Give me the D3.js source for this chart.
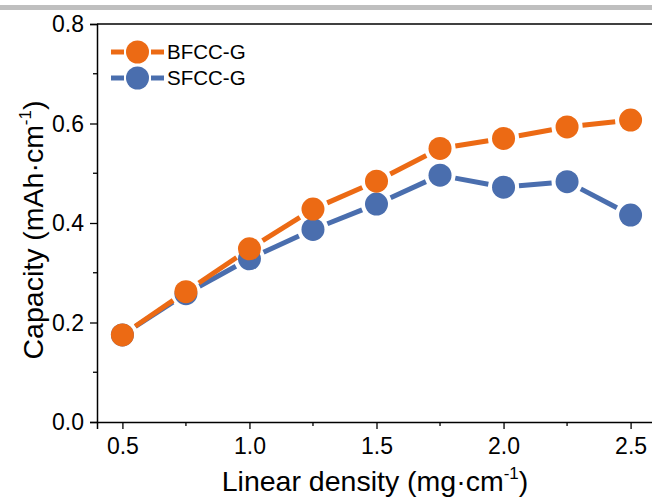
<!DOCTYPE html>
<html>
<head>
<meta charset="utf-8">
<script src="https://cdn.jsdelivr.net/npm/d3@7"></script>
<style>
  body { margin: 0; background: #fff; }
  svg { display: block; font-family: "Liberation Sans", Arial, sans-serif; }
</style>
</head>
<body>
<svg width="652" height="497"></svg>
<script>
const density = [0.5, 0.75, 1.0, 1.25, 1.5, 1.75, 2.0, 2.25, 2.5];
const bfcc = [0.175, 0.262, 0.348, 0.428, 0.484, 0.550, 0.570, 0.593, 0.607];
const sfcc = [0.175, 0.258, 0.328, 0.387, 0.438, 0.496, 0.472, 0.483, 0.416];
const seriesNames = ["BFCC-G", "SFCC-G"];
const seriesColors = ["#EC6A14", "#4A6EAE"];
const xTicks = [0.5, 1.0, 1.5, 2.0, 2.5];
const yTicks = [0.0, 0.2, 0.4, 0.6, 0.8];

const svg = d3.select("svg");

// grey strip along the top edge
svg.append("rect").attr("x", 0).attr("y", 5).attr("width", 652).attr("height", 5).attr("fill", "#bfbfbf");

const x = d3.scaleLinear().domain([0.4, 2.6]).range([97, 656]);
const y = d3.scaleLinear().domain([0, 0.8]).range([422, 24]);

// frame (right side falls off the picture)
svg.append("line").attr("x1", 97).attr("x2", 656).attr("y1", 24).attr("y2", 24)
    .attr("stroke", "#000").attr("stroke-width", 1.5);

const xAxis = svg.append("g").attr("transform", "translate(0,422)")
    .call(d3.axisBottom(x).tickValues(xTicks).tickFormat(d3.format(".1f")).tickSizeOuter(0).tickSize(7));
const yAxis = svg.append("g").attr("transform", "translate(97,0)")
    .call(d3.axisLeft(y).tickValues(yTicks).tickFormat(d3.format(".1f")).tickSizeOuter(0).tickSize(7));

[xAxis, yAxis].forEach(g => {
    g.select(".domain").attr("stroke", "#000").attr("stroke-width", 1.5);
    g.selectAll(".tick line").attr("stroke", "#000").attr("stroke-width", 1.3);
    g.selectAll(".tick text").attr("font-size", 23).attr("fill", "#000")
        .attr("font-family", "Liberation Sans, Arial, sans-serif");
});
xAxis.selectAll(".tick text").attr("dy", "0.95em");
yAxis.selectAll(".tick text").attr("x", -13).attr("dy", "0.33em");

// minor ticks
svg.append("g").selectAll("line").data([0.75, 1.25, 1.75, 2.25]).join("line")
    .attr("x1", d => x(d)).attr("x2", d => x(d)).attr("y1", 422).attr("y2", 426)
    .attr("stroke", "#000").attr("stroke-width", 1.3);
svg.append("g").selectAll("line").data([0.1, 0.3, 0.5, 0.7]).join("line")
    .attr("x1", 93).attr("x2", 97).attr("y1", d => y(d)).attr("y2", d => y(d))
    .attr("stroke", "#000").attr("stroke-width", 1.3);

// axis titles
const xt = svg.append("text").attr("x", 375).attr("y", 491).attr("text-anchor", "middle")
    .attr("font-size", 28.5).attr("fill", "#000");
xt.append("tspan").text("Linear density (mg·cm");
xt.append("tspan").attr("font-size", 17).attr("dy", -12).text("-1");
xt.append("tspan").attr("dy", 12).text(")");

const yt = svg.append("text").attr("transform", "translate(43,230) rotate(-90)")
    .attr("text-anchor", "middle").attr("font-size", 28.5).attr("fill", "#000");
yt.append("tspan").text("Capacity (mAh·cm");
yt.append("tspan").attr("font-size", 17).attr("dy", -12).text("-1");
yt.append("tspan").attr("dy", 12).text(")");

const r = 11.5;
const gap = 4;

function drawSeries(values, color) {
    const pts = density.map((d, i) => [x(d), y(values[i])]);
    const segs = d3.pairs(pts);
    svg.append("g").selectAll("line").data(segs).join("line")
        .each(function ([a, b]) {
            const dx = b[0] - a[0], dy = b[1] - a[1];
            const len = Math.hypot(dx, dy);
            const off = r + gap;
            if (len <= off * 2) { d3.select(this).remove(); return; }
            const ux = dx / len, uy = dy / len;
            d3.select(this)
                .attr("x1", a[0] + ux * off).attr("y1", a[1] + uy * off)
                .attr("x2", b[0] - ux * off).attr("y2", b[1] - uy * off);
        })
        .attr("stroke", color).attr("stroke-width", 5);
    svg.append("g").selectAll("circle").data(pts).join("circle")
        .attr("cx", d => d[0]).attr("cy", d => d[1]).attr("r", r).attr("fill", color);
}

drawSeries(sfcc, seriesColors[1]);
drawSeries(bfcc, seriesColors[0]);

// legend
const legend = svg.append("g");
seriesNames.forEach((name, i) => {
    const ly = 52 + i * 26;
    const g = legend.append("g");
    g.append("line").attr("x1", 111).attr("x2", 124).attr("y1", ly).attr("y2", ly)
        .attr("stroke", seriesColors[i]).attr("stroke-width", 5);
    g.append("line").attr("x1", 151).attr("x2", 164).attr("y1", ly).attr("y2", ly)
        .attr("stroke", seriesColors[i]).attr("stroke-width", 5);
    g.append("circle").attr("cx", 137.5).attr("cy", ly).attr("r", r).attr("fill", seriesColors[i]);
    g.append("text").attr("x", 167).attr("y", ly + 7).attr("font-size", 20.5).attr("fill", "#000").text(name);
});
</script>
</body>
</html>
